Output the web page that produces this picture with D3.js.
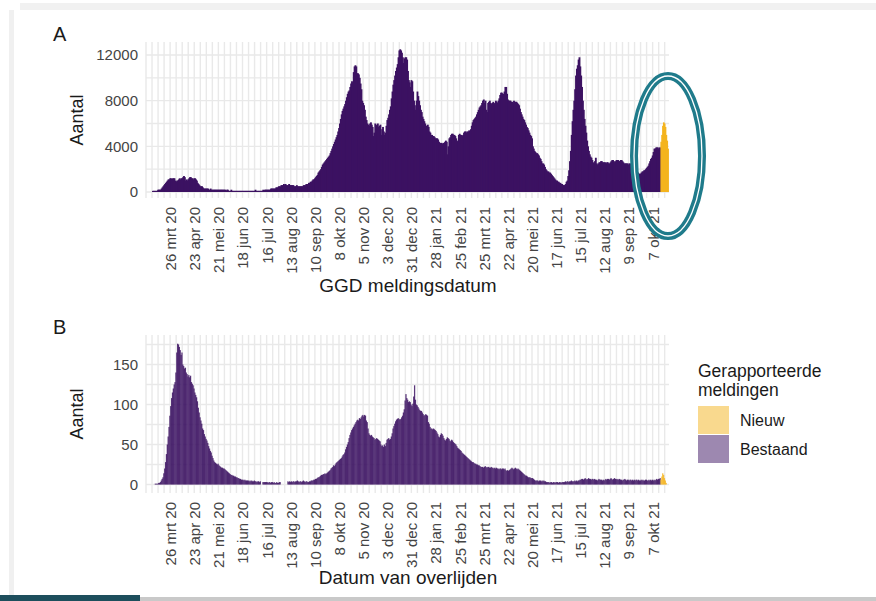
<!DOCTYPE html>
<html>
<head>
<meta charset="utf-8">
<script src="https://cdn.jsdelivr.net/npm/d3@7"></script>
<style>
  body { margin: 0; background: #fff; }
  svg { display: block; font-family: "Liberation Sans", Arial, sans-serif; }
</style>
</head>
<body>
<svg id="vis" width="876" height="601"></svg>
<script>
// first day of both series: 27 feb 2020, one value per day
const startDay = Date.UTC(2020, 1, 27);

// A: GGD meldingen per dag, in hundreds (x100)
const casesBestaand = [
  0,0,0,0,0,0,0,1,1,1, 1,1,1,2,2,2,2,3,4,5, 6,7,8,9,10,11,11,12,12,11,
  12,12,12,10,9,10,10,11,12,11, 12,12,13,14,13,10,11,10,11,12, 13,13,12,12,11,12,12,11,10,8,
  7,6,5,5,5,4,3,3,3,3, 3,3,2,2,3,2,2,2,2,2, 2,2,2,2,2,2,2,2,2,2,
  2,2,1,2,2,1,1,1,2,1, 1,1,1,1,1,1,1,1,1,1, 1,1,1,1,1,1,1,1,1,1,
  1,1,1,1,1,1,2,1,1,1, 1,1,1,1,1,2,1,2,2,2, 2,2,2,2,3,3,3,3,3,3,
  4,4,4,5,5,5,6,6,6,7, 6,7,6,6,6,7,6,6,6,6, 6,5,5,5,6,5,5,5,5,5,
  5,5,6,6,6,7,7,7,8,8, 9,9,10,11,11,12,13,14,15,17, 18,19,20,22,24,25,26,27,28,29,
  30,31,32,34,36,38,40,42,44,46, 48,50,53,56,60,64,68,71,73,75, 77,80,83,86,88,89,92,95,97,96,
  105,110,111,110,104,104,103,100,95,90, 80,78,76,72,66,63,60,59,58,60, 61,59,57,49,52,60,58,59,60,57,
  58,59,50,55,57,53,50,52,58,63, 65,68,72,75,82,88,94,98,102,106, 109,112,118,124,125,124,122,118,113,117,
  118,118,116,106,98,96,92,98,97,88, 80,76,72,80,88,84,80,76,72,70, 66,64,62,60,58,58,59,57,53,52,
  50,50,49,49,48,47,47,47,46,44, 43,43,43,42,43,43,44,45,44,33, 40,47,48,50,51,51,50,50,49,47,
  44,45,50,51,50,50,49,50,52,53, 53,52,53,53,54,53,55,58,61,63, 64,65,66,68,70,72,74,75,76,78,
  80,81,78,80,72,70,78,79,80,78, 77,78,79,77,78,80,79,78,80,82, 85,87,87,86,86,88,92,92,86,81,
  80,80,80,79,79,78,80,79,79,79, 78,77,76,73,70,68,66,64,63,61, 59,57,56,54,52,50,49,47,40,38,
  36,35,34,34,33,32,30,29,27,25, 25,24,22,20,19,18,18,17,17,16, 15,14,13,12,11,10,10,9,9,8,
  8,7,7,6,6,6,7,9,10,14, 19,27,36,50,62,72,80,90,102,108, 111,116,118,110,102,92,80,72,64,58,
  52,45,40,36,33,31,30,28,26,25, 27,30,25,24,25,26,26,27,27,26, 26,26,26,25,26,26,25,25,26,27,
  28,28,27,26,27,28,28,28,27,27, 28,28,27,26,25,25,25,25,25,24, 25,25,24,24,24,23,22,20,19,18,
  17,16,16,16,17,18,18,19,19,20, 21,22,23,25,27,29,30,32,35,38, 38,39,39,39,38,39,39
];
const casesNieuw = [44,50,58,61,60,57,50,45,38];

// B: overleden per dag
const deathsBestaand = [
  0,0,0,0,0,0,0,0,0,0, 1,1,1,1,2,2,3,5,7,9, 14,20,28,38,50,60,72,86,98,108,
  115,120,125,128,140,165,176,175,172,168, 162,165,150,148,145,146,140,138,135,137, 134,136,128,126,124,120,115,112,109,104,
  96,90,84,80,76,70,68,63,60,57, 55,52,48,45,42,40,36,33,30,28, 27,26,25,26,24,23,22,21,21,20,
  20,19,18,17,16,15,14,13,12,12, 11,11,10,10,9,9,8,8,7,7, 6,6,6,5,6,5,5,5,5,4,
  5,4,5,4,4,5,4,4,3,4, 4,3,4,0,0,3,3,3,3,3, 3,2,3,3,2,3,3,2,3,2,
  2,3,2,2,3,3,0,0,0,0, 0,0,0,0,4,3,4,3,4,3, 4,4,3,4,4,5,4,3,4,4,
  3,4,5,4,3,4,4,3,3,4, 4,5,5,5,6,6,7,7,8,9, 9,10,11,12,12,13,13,14,13,14,
  15,16,17,18,20,21,22,24,23,25, 27,28,29,30,31,32,33,35,37,38, 40,44,47,50,53,58,62,65,68,70,
  72,74,76,78,80,81,80,83,82,84, 86,87,85,87,86,80,78,70,64,62, 61,62,60,59,58,56,57,58,57,56,
  55,54,50,48,49,47,50,48,52,56, 57,58,56,57,60,64,70,73,76,79, 81,82,83,82,81,82,84,86,90,94,
  105,113,108,106,103,104,103,100,98,101, 110,124,106,100,99,97,95,93,92,92, 90,88,86,87,88,87,86,78,76,72,
  70,70,69,70,69,68,67,65,63,60, 59,62,64,63,61,58,56,55,57,59, 58,57,55,54,56,55,53,52,51,50,
  48,46,45,44,43,42,40,39,38,37, 36,35,34,33,32,31,30,29,28,28, 27,26,26,25,25,24,24,23,22,22,
  22,21,22,23,22,21,22,22,21,21, 22,21,21,20,21,20,21,20,20,19, 20,20,19,20,20,19,20,18,17,18,
  17,18,19,20,21,20,19,20,21,20, 19,20,19,18,17,16,15,14,13,12, 11,11,10,9,9,9,8,8,8,7,
  6,5,5,5,5,4,5,5,4,5, 4,5,4,4,3,3,3,3,2,3, 3,2,3,3,2,3,3,3,2,3,
  3,2,3,3,3,3,4,3,4,4, 3,4,4,5,4,4,4,5,4,5, 4,5,5,6,6,7,7,6,7,8,
  7,6,7,8,7,7,6,7,7,6, 7,6,6,5,6,7,6,6,6,5, 6,5,6,7,6,7,7,6,7,8,
  7,6,7,8,7,7,6,7,6,7, 6,6,5,6,6,7,6,5,6,6, 5,6,6,5,6,5,6,5,6,6,
  5,6,5,5,6,5,6,5,5,6, 6,5,5,6,5,6,5,6,5,6, 5,6,7,6,7,7,8
];
const deathsNieuw = [6,10,14,12,8,5,2];

const tickDates = ["2020-03-26","2020-04-23","2020-05-21","2020-06-18","2020-07-16","2020-08-13",
  "2020-09-10","2020-10-08","2020-11-05","2020-12-03","2020-12-31","2021-01-28","2021-02-25",
  "2021-03-25","2021-04-22","2021-05-20","2021-06-17","2021-07-15","2021-08-12","2021-09-09","2021-10-07"];
const tickLabels = ["26 mrt 20","23 apr 20","21 mei 20","18 jun 20","16 jul 20","13 aug 20",
  "10 sep 20","8 okt 20","5 nov 20","3 dec 20","31 dec 20","28 jan 21","25 feb 21",
  "25 mrt 21","22 apr 21","20 mei 21","17 jun 21","15 jul 21","12 aug 21","9 sep 21","7 okt 21"];
const yTicksA = [0, 4000, 8000, 12000];
const yTicksB = [0, 50, 100, 150];
const legendLabels = ["Nieuw", "Bestaand"];

const DAY = 86400000;
const purple = "#3c1262";
const orange = "#f4b41e";

function dayDate(i) { return new Date(startDay + i * DAY); }

const svg = d3.select("svg#vis");

// slide frame
svg.append("rect").attr("width", 876).attr("height", 601).attr("fill", "#fff");
svg.append("rect").attr("x", 20).attr("y", 3).attr("width", 856).attr("height", 7).attr("fill", "#f1f1f1");
svg.append("rect").attr("x", 9).attr("y", 10).attr("width", 5).attr("height", 585).attr("fill", "#f0f0f0");
svg.append("rect").attr("x", 0).attr("y", 597).attr("width", 876).attr("height", 4).attr("fill", "#c9c9c9");
svg.append("rect").attr("x", 0).attr("y", 595).attr("width", 140).attr("height", 6).attr("fill", "#1d4e5c");

const x = d3.scaleUtc()
  .domain([dayDate(0), new Date(Date.UTC(2021, 9, 26))])
  .range([146, 669]);

const ticks = tickDates.map(s => new Date(s + "T00:00:00Z"));

function drawPanel(p) {
  const g = svg.append("g");
  const y = d3.scaleLinear().domain([0, p.yRef]).range([p.y0, p.yRefPx]);

  // grid
  const gridVals = d3.range(0, p.gridMax + 0.001, p.gridStep);
  g.selectAll("line.h").data(gridVals).enter().append("line")
    .attr("x1", x.range()[0]).attr("x2", x.range()[1])
    .attr("y1", d => y(d)).attr("y2", d => y(d))
    .attr("stroke", "#e9e9e9").attr("stroke-width", 1.4);
  g.selectAll("line.v").data(d3.utcThursday.range(x.domain()[0], x.domain()[1])).enter().append("line")
    .attr("x1", d => x(d)).attr("x2", d => x(d))
    .attr("y1", p.top).attr("y2", p.bottom)
    .attr("stroke", "#e9e9e9").attr("stroke-width", 1.4);

  // bars
  p.series.forEach(s => {
    g.append("g").selectAll("rect").data(s.values).enter().append("rect")
      .attr("x", (d, i) => x(dayDate(s.offset + i)))
      .attr("width", (d, i) => x(dayDate(s.offset + i + 1)) - x(dayDate(s.offset + i)) + s.overlap)
      .attr("y", d => y(d * s.unit))
      .attr("height", d => y(0) - y(d * s.unit))
      .attr("fill", s.color)
      .attr("fill-opacity", s.opacity);
  });

  // y axis
  const ya = g.append("g").attr("transform", "translate(146,0)")
    .call(d3.axisLeft(y).tickValues(p.yTicks).tickSize(0).tickPadding(8).tickFormat(d3.format("d")));
  ya.select(".domain").remove();
  ya.selectAll("text").attr("font-size", 15).attr("fill", "#444")
    .attr("font-family", "Liberation Sans, Arial, sans-serif");

  // x axis
  const xa = g.append("g").attr("transform", "translate(0," + p.bottom + ")")
    .call(d3.axisBottom(x).tickValues(ticks).tickSize(0).tickFormat((d, i) => tickLabels[i]));
  xa.select(".domain").remove();
  xa.selectAll("text")
    .attr("transform", "rotate(-90)")
    .attr("x", -9).attr("y", 0).attr("dy", "0.36em")
    .style("text-anchor", "end")
    .attr("font-size", 15).attr("fill", "#444")
    .attr("font-family", "Liberation Sans, Arial, sans-serif");

  // titles
  g.append("text").attr("x", 408).attr("y", p.titleY).attr("text-anchor", "middle")
    .attr("font-size", 19).attr("fill", "#1a1a1a").text(p.title);
  g.append("text").attr("transform", "translate(83," + ((p.top + p.bottom) / 2) + ") rotate(-90)")
    .attr("text-anchor", "middle").attr("font-size", 18).attr("fill", "#1a1a1a").text("Aantal");
  g.append("text").attr("x", 53).attr("y", p.tagY).attr("font-size", 20).attr("fill", "#1a1a1a").text(p.tag);
}

drawPanel({
  top: 42, bottom: 198, y0: 192, yRef: 12000, yRefPx: 55,
  gridMax: 12000, gridStep: 2000, yTicks: yTicksA,
  series: [
    { values: casesBestaand, offset: 0, color: purple, opacity: 1, unit: 100, overlap: 1 },
    { values: casesNieuw, offset: casesBestaand.length, color: orange, opacity: 1, unit: 100, overlap: 0.8 }
  ],
  title: "GGD meldingsdatum", titleY: 292, tag: "A", tagY: 41
});

drawPanel({
  top: 335, bottom: 493, y0: 484.5, yRef: 150, yRefPx: 364.5,
  gridMax: 175, gridStep: 25, yTicks: yTicksB,
  series: [
    { values: deathsBestaand, offset: 0, color: purple, opacity: 0.84, unit: 1, overlap: 0.4 },
    { values: deathsNieuw, offset: deathsBestaand.length, color: orange, opacity: 0.85, unit: 1, overlap: 0.4 }
  ],
  title: "Datum van overlijden", titleY: 584, tag: "B", tagY: 334
});

// legend
const lg = svg.append("g").attr("transform", "translate(698,0)");
lg.append("text").attr("y", 377).attr("font-size", 17.5).attr("fill", "#1a1a1a").text("Gerapporteerde");
lg.append("text").attr("y", 396).attr("font-size", 17.5).attr("fill", "#1a1a1a").text("meldingen");
const swatch = d3.scaleOrdinal().domain(legendLabels).range([orange, purple]);
lg.selectAll("rect.sw").data(legendLabels).enter().append("rect")
  .attr("x", 0).attr("y", (d, i) => 406 + i * 29).attr("width", 31).attr("height", 28)
  .attr("fill", d => swatch(d)).attr("fill-opacity", 0.5);
lg.selectAll("text.lab").data(legendLabels).enter().append("text")
  .attr("x", 42).attr("y", (d, i) => 426 + i * 29)
  .attr("font-size", 16).attr("fill", "#1a1a1a").text(d => d);

// highlight ring around the newest reports in A
svg.append("ellipse").attr("cx", 668).attr("cy", 156).attr("rx", 34).attr("ry", 80)
  .attr("fill", "none").attr("stroke", "#1f7b8b").attr("stroke-width", 8);
svg.append("ellipse").attr("cx", 668).attr("cy", 156).attr("rx", 34).attr("ry", 80)
  .attr("fill", "none").attr("stroke", "#fff").attr("stroke-width", 1.3);
</script>
</body>
</html>
